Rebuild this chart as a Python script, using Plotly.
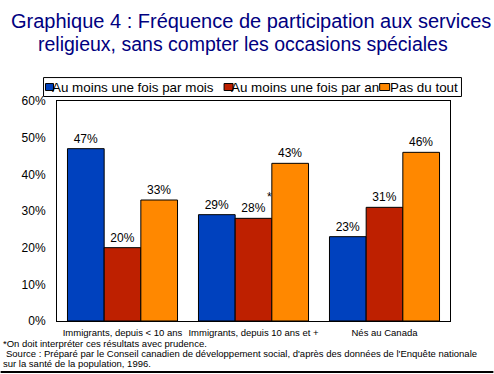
import plotly.graph_objects as go

categories = ["Immigrants, depuis < 10 ans", "Immigrants, depuis 10 ans et +", "Nés au Canada"]
series_names = ["Au moins une fois par mois", "Au moins une fois par an", "Pas du tout"]
monthly = [47, 29, 23]
yearly = [20, 28, 31]
not_at_all = [33, 43, 46]
colors = ["#0041BE", "#BE2000", "#FF8800"]
y_ticks = [0, 10, 20, 30, 40, 50, 60]
y_tick_labels = [f"{v}%" for v in y_ticks]

W, H = 494, 374
L, R, T, B = 56.5, 450.5, 100.5, 321.0
def px(x):
    return (x - L) / (R - L)
def py(y):
    return 1 - (y - T) / (B - T)

FONT = "Liberation Sans, Arial, sans-serif"

fig = go.Figure()
for name, vals, col in zip(series_names, [monthly, yearly, not_at_all], colors):
    fig.add_trace(go.Bar(
        x=categories, y=vals, name=name,
        marker=dict(color=col, line=dict(color="black", width=1)),
        text=[f"{v}%" for v in vals], textposition="outside",
        textfont=dict(family=FONT, size=12, color="black"),
        cliponaxis=False, showlegend=False,
    ))

fig.update_layout(
    width=W, height=H,
    margin=dict(l=L, r=W - R, t=T, b=H - B, pad=0),
    paper_bgcolor="white", plot_bgcolor="white",
    barmode="group", bargap=0.16, bargroupgap=0,
    font=dict(family=FONT, color="black"),
    showlegend=False,
)
fig.update_yaxes(
    range=[0, 60], tickvals=y_ticks, ticktext=y_tick_labels,
    showgrid=False, zeroline=False, showline=True, linecolor="black", linewidth=1,
    mirror=True, ticks="", tickfont=dict(family=FONT, size=12, color="black"),
    ticklabelstandoff=8,
)
fig.update_xaxes(
    showgrid=False, showline=True, linecolor="black", linewidth=1, mirror=True,
    ticks="", tickfont=dict(family=FONT, size=9.5, color="black"),
    ticklabelstandoff=3,
)

# Title
fig.add_annotation(text="Graphique 4 : Fréquence de participation aux services",
                   xref="paper", yref="paper", x=px(251), y=py(20), xanchor="center", yanchor="middle",
                   showarrow=False, font=dict(family=FONT, size=20, color="#000080"))
fig.add_annotation(text="religieux, sans compter les occasions spéciales",
                   xref="paper", yref="paper", x=px(243), y=py(43), xanchor="center", yanchor="middle",
                   showarrow=False, font=dict(family=FONT, size=19.5, color="#000080"))

# Legend (custom)
fig.add_shape(type="rect", xref="paper", yref="paper", x0=px(43), x1=px(462), y0=py(77), y1=py(96),
              line=dict(color="black", width=1), fillcolor="white", layer="above")
leg_sw = [(45, 53), (224, 233), (380, 390)]
leg_tx = [49, 228.5, 388]
for (a, b), tx, name, col in zip(leg_sw, leg_tx, series_names, colors):
    fig.add_shape(type="rect", xref="paper", yref="paper", x0=px(a), x1=px(b), y0=py(83), y1=py(90),
                  line=dict(color="black", width=1), fillcolor=col)
    fig.add_annotation(text=name, xref="paper", yref="paper", x=px(tx), y=py(86.5),
                       xanchor="left", yanchor="middle", showarrow=False,
                       font=dict(family=FONT, size=13.4, color="black"))

# asterisk near the 28% bar
fig.add_annotation(text="*", x=categories[1], y=33.8, xref="x", yref="y", xshift=16,
                   showarrow=False, xanchor="center", yanchor="middle",
                   font=dict(family=FONT, size=12, color="black"))

# Footnotes
notes = [
    (0, 344, "*On doit interpréter ces résultats avec prudence."),
    (3, 354, "Source : Préparé par le Conseil canadien de développement social, d'après des données de l'Enquête nationale"),
    (0, 364, "sur la santé de la population, 1996."),
]
for x0, y0, t in notes:
    fig.add_annotation(text=t, xref="paper", yref="paper", x=px(x0), y=py(y0),
                       xanchor="left", yanchor="middle", showarrow=False,
                       font=dict(family=FONT, size=9.5, color="black"))

# bottom frame line
fig.add_shape(type="line", xref="paper", yref="paper", x0=px(0), x1=px(494), y0=py(372), y1=py(372),
              line=dict(color="black", width=2))

fig.write_html("out.html", config={"displayModeBar": False},
               post_script="document.body.style.margin='0';document.body.style.overflow='hidden';")
